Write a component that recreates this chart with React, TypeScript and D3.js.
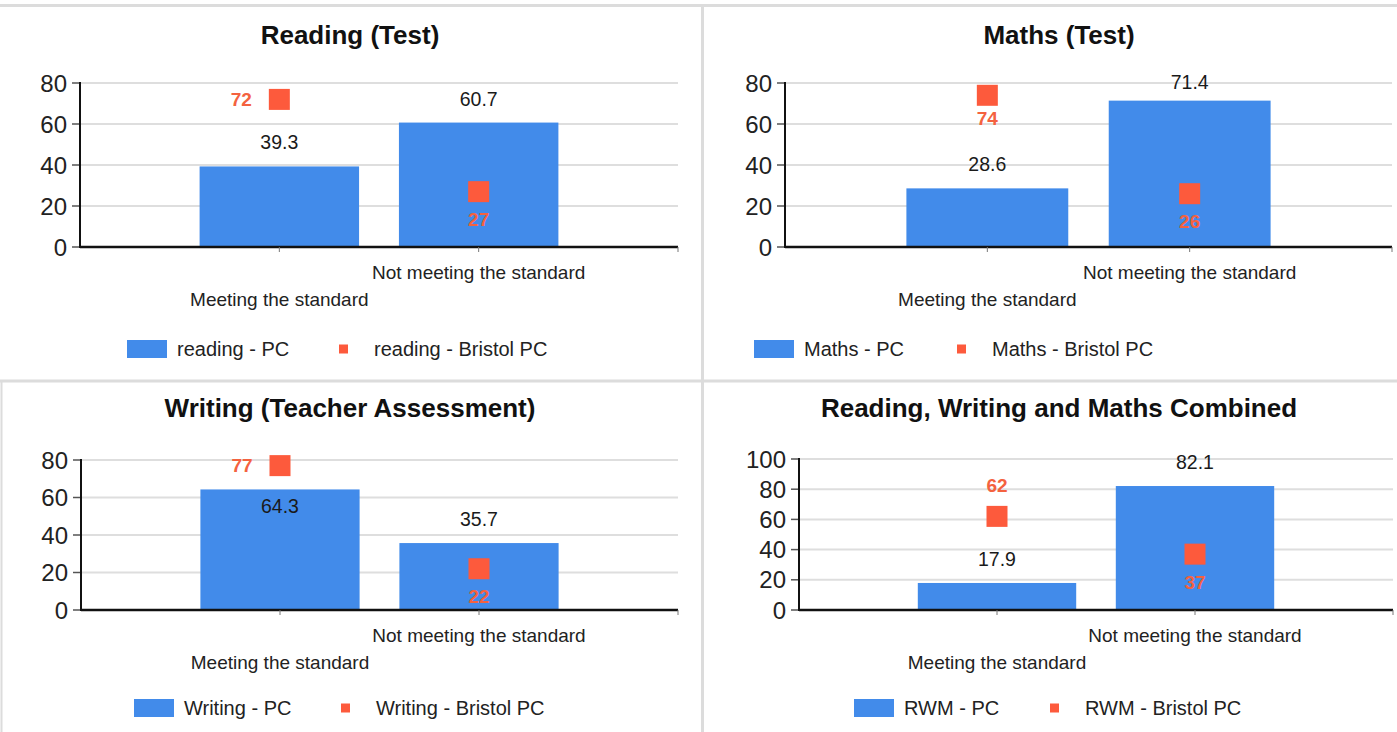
import React from "react";
import * as d3 from "d3";

const categories = ["Meeting the standard", "Not meeting the standard"];

const readingPC = [39.3, 60.7];
const readingBristol = [72, 27];
const mathsPC = [28.6, 71.4];
const mathsBristol = [74, 26];
const writingPC = [64.3, 35.7];
const writingBristol = [77, 22];
const rwmPC = [17.9, 82.1];
const rwmBristol = [62, 37];

const ticks80 = [0, 20, 40, 60, 80];
const ticks100 = [0, 20, 40, 60, 80, 100];

const BLUE = "#428bea";
const RED = "#fd5a3c";
const RED_TEXT = "#f4623f";
const FONT = "'Liberation Sans', Arial, sans-serif";

type Panel = {
  title: string;
  pc: number[];
  bristol: number[];
  pcName: string;
  bristolName: string;
  ticks: number[];
  left: number;
  right: number;
  top: number;
  bottom: number;
  titleX: number;
  titleY: number;
  legendY: number;
  legendX: number[];
  barLabel: string[];
  dotLabel: string[];
};

const panels: Panel[] = [
  {
    title: "Reading (Test)", pc: readingPC, bristol: readingBristol,
    pcName: "reading - PC", bristolName: "reading - Bristol PC", ticks: ticks80,
    left: 80, right: 678, top: 83, bottom: 247, titleX: 350, titleY: 35,
    legendY: 349, legendX: [127, 339],
    barLabel: ["above", "above"], dotLabel: ["left", "below"],
  },
  {
    title: "Maths (Test)", pc: mathsPC, bristol: mathsBristol,
    pcName: "Maths - PC", bristolName: "Maths - Bristol PC", ticks: ticks80,
    left: 785, right: 1392, top: 83, bottom: 247, titleX: 1059, titleY: 35,
    legendY: 349, legendX: [754, 957],
    barLabel: ["above", "above"], dotLabel: ["belowTight", "below"],
  },
  {
    title: "Writing (Teacher Assessment)", pc: writingPC, bristol: writingBristol,
    pcName: "Writing - PC", bristolName: "Writing - Bristol PC", ticks: ticks80,
    left: 81, right: 678, top: 460, bottom: 610, titleX: 350, titleY: 408,
    legendY: 708, legendX: [134, 341],
    barLabel: ["inside", "above"], dotLabel: ["left", "below"],
  },
  {
    title: "Reading, Writing and Maths Combined", pc: rwmPC, bristol: rwmBristol,
    pcName: "RWM - PC", bristolName: "RWM - Bristol PC", ticks: ticks100,
    left: 799, right: 1393, top: 459, bottom: 610, titleX: 1059, titleY: 408,
    legendY: 708, legendX: [854, 1050],
    barLabel: ["above", "above"], dotLabel: ["above", "below"],
  },
];

function ChartPanel({ p }: { p: Panel }) {
  const yMax = d3.max(p.ticks) as number;
  const y = d3.scaleLinear().domain([0, yMax]).range([p.bottom, p.top]);
  const x = d3.scaleLinear().domain([0, 3]).range([p.left, p.right]);
  const barW = x(0.8) - x(0);
  const m = 21;

  return (
    <g fontFamily={FONT}>
      <text x={p.titleX} y={p.titleY} textAnchor="middle" dominantBaseline="central"
        fontSize={26} fontWeight="bold" fill="#111">{p.title}</text>

      {p.ticks.map((t) => (
        <g key={t}>
          {t > 0 && (
            <line x1={p.left} x2={p.right} y1={y(t)} y2={y(t)} stroke="#dedede" strokeWidth={2} />
          )}
          <line x1={p.left - 8} x2={p.left} y1={y(t)} y2={y(t)} stroke="#555" strokeWidth={1.5} />
          <text x={p.left - 13} y={y(t)} textAnchor="end" dominantBaseline="central"
            fontSize={24} fill="#222">{t}</text>
        </g>
      ))}

      {p.pc.map((v, i) => {
        const cx = x(i + 1);
        return (
          <rect key={"b" + i} x={cx - barW / 2} y={y(v)} width={barW} height={y(0) - y(v)} fill={BLUE} />
        );
      })}

      <line x1={p.left} x2={p.left} y1={y(yMax) - 1} y2={y(0) + 1} stroke="#111" strokeWidth={2} />
      <line x1={p.left} x2={p.right} y1={y(0)} y2={y(0)} stroke="#111" strokeWidth={2.5} />
      {categories.map((c, i) => (
        <line key={"t" + i} x1={x(i + 1)} x2={x(i + 1)} y1={y(0)} y2={y(0) + 5} stroke="#777" strokeWidth={1} />
      ))}
      <line x1={p.right} x2={p.right} y1={y(0)} y2={y(0) + 5} stroke="#777" strokeWidth={1} />

      {categories.map((c, i) => (
        <text key={"c" + i} x={x(i + 1)} y={y(0) + (i === 0 ? 52 : 25)} textAnchor="middle"
          dominantBaseline="central" fontSize={19} fill="#222">{c}</text>
      ))}

      {p.pc.map((v, i) => {
        const cx = x(i + 1);
        let ly = y(v) - 24;
        if (p.barLabel[i] === "inside") ly = y(v) + 17;
        ly = Math.max(ly, p.top - 1);
        return (
          <text key={"bl" + i} x={cx} y={ly} textAnchor="middle" dominantBaseline="central"
            fontSize={19.5} fill="#1a1a1a">{v.toFixed(1)}</text>
        );
      })}

      {p.bristol.map((v, i) => {
        const cx = x(i + 1);
        const cy = y(v);
        const pos = p.dotLabel[i];
        const lx = pos === "left" ? cx - 38 : cx;
        let ly = cy;
        if (pos === "below") ly = cy + 28;
        if (pos === "belowTight") ly = cy + 23;
        if (pos === "above") ly = cy - 31;
        return (
          <g key={"d" + i}>
            <rect x={cx - m / 2} y={cy - m / 2} width={m} height={m} fill={RED} />
            <text x={lx} y={ly} textAnchor="middle" dominantBaseline="central"
              fontSize={19} fontWeight="bold" fill={RED_TEXT}>{v}</text>
          </g>
        );
      })}

      <rect x={p.legendX[0]} y={p.legendY - 9} width={40} height={18} fill={BLUE} />
      <text x={p.legendX[0] + 50} y={p.legendY} dominantBaseline="central" fontSize={20} fill="#222">{p.pcName}</text>
      <rect x={p.legendX[1]} y={p.legendY - 4.5} width={9} height={9} fill={RED} />
      <text x={p.legendX[1] + 35} y={p.legendY} dominantBaseline="central" fontSize={20} fill="#222">{p.bristolName}</text>
    </g>
  );
}

export default function App() {
  const W = 1397;
  const H = 732;
  return (
    <svg width={W} height={H} style={{ position: "absolute", left: 0, top: 0, background: "#fff" }}>
      <rect width={W} height={H} fill="#fff" />
      <line x1={0} x2={W} y1={5.5} y2={5.5} stroke="#dcdcdc" strokeWidth={3} />
      <line x1={702.5} x2={702.5} y1={4} y2={H} stroke="#dcdcdc" strokeWidth={3} />
      <line x1={0} x2={W} y1={381} y2={381} stroke="#dcdcdc" strokeWidth={3} />
      <line x1={1.5} x2={1.5} y1={381} y2={H} stroke="#dcdcdc" strokeWidth={2} />
      {panels.map((p) => (
        <ChartPanel key={p.title} p={p} />
      ))}
    </svg>
  );
}
